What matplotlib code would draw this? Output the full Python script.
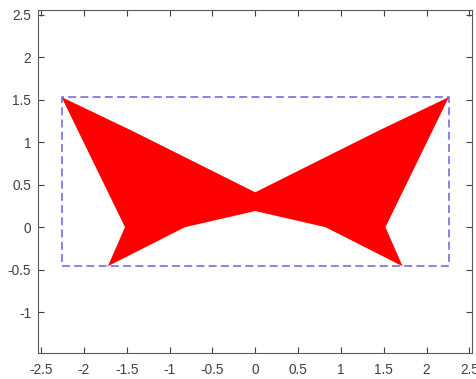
import matplotlib
matplotlib.use("Agg")
import matplotlib.pyplot as plt
from matplotlib.patches import Polygon

plt.rcParams['font.family'] = ['Liberation Sans', 'DejaVu Sans']
plt.rcParams['axes.unicode_minus'] = False

# outline of the shape, going round the boundary
shape_x = [-2.26, -1.52, -1.72, -0.82, 0.0, 0.82, 1.72, 1.52, 2.26, 1.45, 0.0, -1.45]
shape_y = [1.53, 0.0, -0.46, 0.0, 0.19, 0.0, -0.46, 0.0, 1.53, 1.14, 0.41, 1.14]

xticks = [-2.5, -2, -1.5, -1, -0.5, 0, 0.5, 1, 1.5, 2, 2.5]
yticks = [-1, -0.5, 0, 0.5, 1, 1.5, 2, 2.5]

fig = plt.figure(figsize=(4.77, 3.79), dpi=100)
ax = fig.add_axes([0.0797, 0.0686, 0.9098, 0.9063])

ax.add_patch(Polygon(list(zip(shape_x, shape_y)), closed=True,
                     facecolor='#ff0000', edgecolor='none'))

# bounding box of the shape
x0, x1 = min(shape_x), max(shape_x)
y0, y1 = min(shape_y), max(shape_y)
ax.plot([x0, x1, x1, x0, x0], [y0, y0, y1, y1, y0], color='#6464dc',
        lw=1.1, linestyle=(0, (5.2, 2.8)))

ax.set_xlim(-2.535, 2.53)
ax.set_ylim(-1.48, 2.56)
ax.set_xticks(xticks)
ax.set_xticklabels([f"{t:g}" for t in xticks])
ax.set_yticks(yticks)
ax.set_yticklabels([f"{t:g}" for t in yticks])

ax.tick_params(direction='in', length=4, width=0.8, top=True, right=True,
               labelsize=9.8, colors='#404040')
ax.tick_params(axis='x', pad=7)
ax.tick_params(axis='y', pad=5)
for s in ax.spines.values():
    s.set_color('#5a5a5a')
    s.set_linewidth(0.8)

fig.savefig('out.png', dpi=100)
